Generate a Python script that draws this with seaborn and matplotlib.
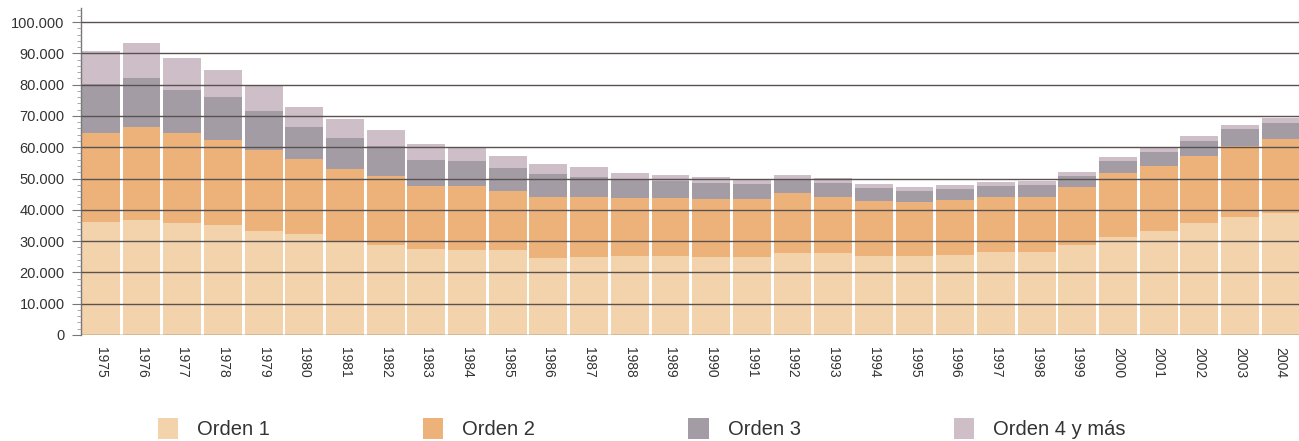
import numpy as np
import seaborn as sns
import matplotlib.pyplot as plt
from matplotlib.patches import Patch
from matplotlib.ticker import FuncFormatter, AutoMinorLocator, MultipleLocator

# Nacimientos por orden de nacimiento, 1975-2004
years = [str(y) for y in range(1975, 2005)]

orden1 = [36200, 36800, 35900, 35300, 33300, 32300, 30100, 28800, 27400, 27200,
          27200, 24700, 25000, 25200, 25200, 24800, 24800, 26100, 26100, 25300,
          25200, 25600, 26400, 26400, 28800, 31400, 33200, 35700, 37800, 38900]
orden2 = [28200, 29800, 28700, 27000, 25800, 24000, 23100, 22100, 20300, 20400,
          18900, 19500, 19200, 18500, 18500, 18500, 18500, 19200, 18100, 17500,
          17200, 17500, 17800, 17800, 18600, 20300, 20800, 21500, 22600, 23800]
orden3 = [15700, 15600, 13800, 13600, 12500, 10200, 9800, 9500, 8200, 8000,
          7400, 7200, 6400, 6000, 5600, 5200, 4900, 4500, 4300, 4300,
          3600, 3500, 3500, 3700, 3400, 3900, 4600, 4900, 5300, 4900]
orden4 = [10700, 11100, 10200, 8800, 8300, 6400, 6100, 5200, 5000, 4000,
          3800, 3400, 3200, 2200, 1900, 1900, 1600, 1400, 1600, 1000,
          1400, 1300, 1300, 1300, 1400, 1400, 1600, 1500, 1500, 1800]

labels = ['Orden 1', 'Orden 2', 'Orden 3', 'Orden 4 y más']
colors = ['#f3d3ab', '#edb17a', '#a39ca4', '#cdbec7']

sns.set_style('white')
plt.rcParams['font.family'] = ['Liberation Sans', 'DejaVu Sans']

fig = plt.figure(figsize=(12.99, 4.41), dpi=100)
ax = fig.add_axes([0.062, 0.2404, 0.938, 0.7415])

# stacked bars: draw cumulative totals from the top down
series = [np.array(orden1), np.array(orden2), np.array(orden3), np.array(orden4)]
cum = np.cumsum(series, axis=0)
for i in range(3, -1, -1):
    sns.barplot(x=years, y=cum[i], color=colors[i], saturation=1, width=0.93,
                edgecolor='none', linewidth=0, ax=ax)

ax.set_xlim(-0.5, 29.45)
ax.set_ylim(0, 104500)
ax.yaxis.set_major_locator(MultipleLocator(10000))
ax.yaxis.set_minor_locator(AutoMinorLocator(5))
ax.yaxis.set_major_formatter(FuncFormatter(lambda v, p: f'{int(v):,}'.replace(',', '.')))

# grid drawn over the bars
ax.set_axisbelow(False)
ax.grid(axis='y', color='#5a5250', linewidth=1.0)
ax.grid(axis='x', visible=False)

for s in ['top', 'right', 'bottom']:
    ax.spines[s].set_visible(False)
ax.spines['left'].set_color('#777777')
ax.spines['left'].set_linewidth(1.0)

ax.tick_params(axis='y', which='major', left=True, length=6.5, width=0.8,
               color='#777777', labelsize=10.5, labelcolor='#333333', pad=5)
ax.tick_params(axis='y', which='minor', left=True, length=3, width=0.6, color='#999999')
ax.tick_params(axis='x', length=0, labelsize=10, labelcolor='#333333', pad=9)
plt.setp(ax.get_xticklabels(), rotation=270, va='top', ha='center')
ax.set_xlabel('')
ax.set_ylabel('')

handles = [Patch(facecolor=c, edgecolor='none') for c in colors]
fig.legend(handles, labels, loc='center left', bbox_to_anchor=(158 / 1299, 0.028),
           ncol=4, frameon=False, fontsize=14.5, handlelength=1.0, handleheight=1.2,
           handletextpad=0.95, columnspacing=7.6, borderpad=0, borderaxespad=0,
           labelcolor='#333333')

fig.savefig('out.png', dpi=100)
